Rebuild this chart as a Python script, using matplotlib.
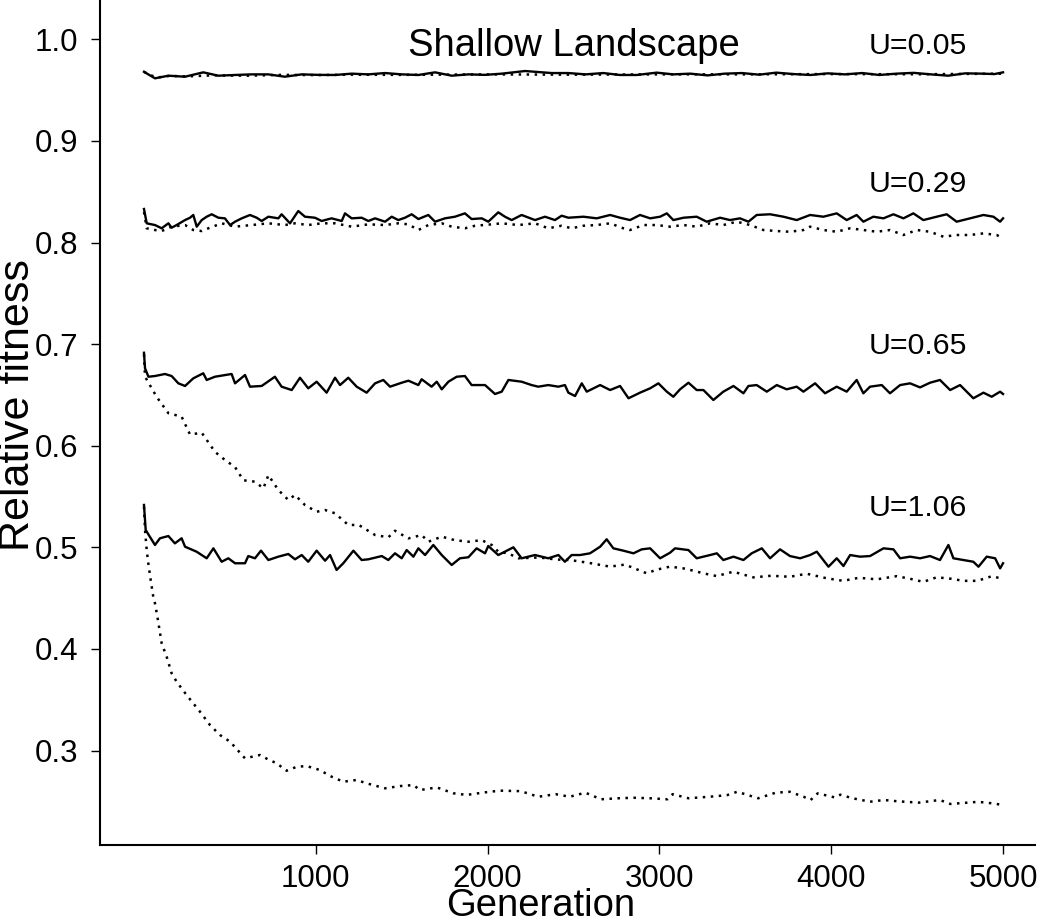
import matplotlib
matplotlib.use('Agg')
import matplotlib.pyplot as plt

plt.rcParams['font.family'] = ['Liberation Sans', 'DejaVu Sans']

# ---- data (generation, relative fitness) ----
gen_u005 = [0, 25, 64, 142, 239, 345, 433, 530, 627, 724, 820, 918, 1015, 1112, 1209,
            1306, 1403, 1500, 1597, 1694, 1791, 1888, 1985, 2082, 2218, 2373, 2470, 2570,
            2674, 2770, 2868, 2984, 3080, 3180, 3280, 3380, 3480, 3580, 3680, 3780, 3880,
            3980, 4080, 4180, 4280, 4380, 4480, 4580, 4680, 4780, 4880, 4950, 5000]
fit_u005 = [0.9681, 0.9655, 0.9616, 0.9642, 0.9632, 0.9675, 0.9642, 0.9649, 0.9655, 0.9655,
            0.9632, 0.9655, 0.9650, 0.9649, 0.9662, 0.9655, 0.9668, 0.9655, 0.9649, 0.9675,
            0.9642, 0.9655, 0.9650, 0.9662, 0.9688, 0.9668, 0.9668, 0.9655, 0.9668, 0.9649,
            0.9649, 0.9672, 0.9655, 0.9662, 0.9645, 0.9662, 0.9668, 0.9652, 0.9672, 0.9658,
            0.9649, 0.9665, 0.9655, 0.9668, 0.9649, 0.9662, 0.9670, 0.9655, 0.9642, 0.9665,
            0.9662, 0.9658, 0.9675]
gen_u005_dot = [0, 30, 80, 150, 250, 400, 600, 800, 1000, 1200, 1500, 2000, 2500, 3000,
                3500, 4000, 4500, 5000]
fit_u005_dot = [0.9680, 0.9650, 0.9625, 0.9640, 0.9635, 0.9645, 0.9642, 0.9650, 0.9648,
                0.9652, 0.9650, 0.9655, 0.9652, 0.9655, 0.9655, 0.9658, 0.9656, 0.9662]

gen_u029 = [0, 16, 64, 103, 142, 161, 190, 239, 268, 287, 307, 336, 365, 394, 433, 471,
            501, 530, 569, 617, 656, 685, 724, 782, 801, 850, 898, 937, 995, 1034, 1092,
            1151, 1170, 1209, 1267, 1306, 1345, 1403, 1442, 1480, 1519, 1558, 1597, 1655,
            1694, 1752, 1810, 1868, 1907, 1966, 2004, 2062, 2101, 2140, 2198, 2276, 2334,
            2392, 2431, 2470, 2558, 2635, 2713, 2771, 2829, 2887, 2946, 3004, 3043, 3081,
            3140, 3217, 3275, 3353, 3411, 3469, 3518, 3566, 3644, 3722, 3799, 3877, 3954,
            4032, 4090, 4148, 4187, 4245, 4304, 4362, 4420, 4478, 4536, 4614, 4672, 4730,
            4808, 4886, 4944, 4983, 5000]
fit_u029 = [0.8330, 0.8189, 0.8172, 0.8140, 0.8189, 0.8146, 0.8172, 0.8221, 0.8244, 0.8271,
            0.8156, 0.8221, 0.8254, 0.8278, 0.8244, 0.8238, 0.8172, 0.8205, 0.8238, 0.8271,
            0.8244, 0.8212, 0.8254, 0.8238, 0.8278, 0.8189, 0.8310, 0.8254, 0.8244, 0.8212,
            0.8238, 0.8212, 0.8287, 0.8238, 0.8244, 0.8212, 0.8238, 0.8205, 0.8254, 0.8221,
            0.8244, 0.8278, 0.8231, 0.8271, 0.8205, 0.8238, 0.8254, 0.8287, 0.8231, 0.8238,
            0.8205, 0.8297, 0.8254, 0.8221, 0.8271, 0.8221, 0.8254, 0.8221, 0.8264, 0.8244,
            0.8254, 0.8238, 0.8271, 0.8244, 0.8221, 0.8271, 0.8238, 0.8254, 0.8287, 0.8221,
            0.8244, 0.8254, 0.8205, 0.8244, 0.8221, 0.8238, 0.8205, 0.8271, 0.8278, 0.8254,
            0.8221, 0.8271, 0.8254, 0.8287, 0.8221, 0.8271, 0.8205, 0.8254, 0.8238, 0.8278,
            0.8238, 0.8287, 0.8221, 0.8254, 0.8278, 0.8205, 0.8238, 0.8271, 0.8254, 0.8205,
            0.8238]
gen_u029_dot = [0, 16, 64, 103, 161, 239, 287, 336, 375, 452, 530, 627, 724, 820, 879, 956,
                1034, 1112, 1209, 1306, 1403, 1480, 1539, 1597, 1655, 1733, 1791, 1868, 1927,
                2024, 2082, 2179, 2276, 2353, 2431, 2489, 2558, 2635, 2713, 2790, 2829, 2907,
                2984, 3062, 3140, 3217, 3295, 3372, 3450, 3528, 3605, 3683, 3760, 3838, 3877,
                3954, 4032, 4110, 4187, 4265, 4342, 4420, 4498, 4575, 4653, 4730, 4808, 4886,
                4963, 5000]
fit_u029_dot = [0.8300, 0.8140, 0.8123, 0.8113, 0.8156, 0.8172, 0.8123, 0.8113, 0.8140, 0.8189,
                0.8156, 0.8172, 0.8189, 0.8172, 0.8189, 0.8172, 0.8189, 0.8189, 0.8156, 0.8179,
                0.8172, 0.8189, 0.8179, 0.8123, 0.8172, 0.8189, 0.8156, 0.8140, 0.8165, 0.8179,
                0.8189, 0.8172, 0.8189, 0.8140, 0.8165, 0.8140, 0.8165, 0.8172, 0.8189, 0.8140,
                0.8123, 0.8172, 0.8172, 0.8156, 0.8172, 0.8156, 0.8189, 0.8172, 0.8205, 0.8172,
                0.8123, 0.8113, 0.8106, 0.8123, 0.8156, 0.8123, 0.8106, 0.8140, 0.8123, 0.8106,
                0.8123, 0.8074, 0.8123, 0.8106, 0.8057, 0.8074, 0.8074, 0.8090, 0.8074, 0.8041]

gen_u065 = [0, 6, 26, 64, 122, 161, 200, 239, 287, 345, 365, 413, 510, 530, 588, 617, 685,
            762, 801, 860, 908, 956, 1005, 1063, 1112, 1141, 1189, 1238, 1296, 1345, 1393,
            1432, 1500, 1539, 1597, 1616, 1674, 1704, 1733, 1772, 1820, 1868, 1907, 1985,
            2043, 2082, 2121, 2198, 2256, 2295, 2353, 2412, 2450, 2470, 2509, 2548, 2577,
            2655, 2713, 2771, 2820, 2887, 2946, 2994, 3043, 3081, 3120, 3169, 3217, 3256,
            3314, 3372, 3431, 3489, 3518, 3566, 3625, 3683, 3741, 3799, 3838, 3906, 3964,
            4032, 4090, 4148, 4187, 4226, 4294, 4342, 4401, 4459, 4517, 4575, 4633, 4692,
            4750, 4827, 4886, 4934, 4983, 5000]
fit_u065 = [0.6915, 0.6762, 0.6679, 0.6686, 0.6706, 0.6686, 0.6614, 0.6588, 0.6663, 0.6713,
            0.6647, 0.6679, 0.6706, 0.6614, 0.6696, 0.6581, 0.6588, 0.6679, 0.6581, 0.6548,
            0.6669, 0.6565, 0.6630, 0.6522, 0.6669, 0.6597, 0.6669, 0.6581, 0.6522, 0.6614,
            0.6647, 0.6581, 0.6620, 0.6640, 0.6597, 0.6654, 0.6581, 0.6630, 0.6555, 0.6630,
            0.6679, 0.6686, 0.6597, 0.6597, 0.6509, 0.6532, 0.6647, 0.6630, 0.6597, 0.6581,
            0.6597, 0.6581, 0.6597, 0.6522, 0.6489, 0.6614, 0.6532, 0.6597, 0.6548, 0.6588,
            0.6467, 0.6522, 0.6565, 0.6614, 0.6532, 0.6482, 0.6555, 0.6620, 0.6548, 0.6548,
            0.6450, 0.6532, 0.6588, 0.6516, 0.6588, 0.6597, 0.6532, 0.6597, 0.6555, 0.6581,
            0.6532, 0.6614, 0.6516, 0.6581, 0.6532, 0.6647, 0.6516, 0.6581, 0.6597, 0.6516,
            0.6597, 0.6614, 0.6574, 0.6620, 0.6647, 0.6548, 0.6597, 0.6467, 0.6522, 0.6482,
            0.6532, 0.6509]
gen_u065_dot = [0, 6, 74, 142, 219, 268, 336, 413, 471, 530, 578, 646, 695, 724, 782, 840,
                879, 937, 1005, 1054, 1112, 1189, 1250, 1345, 1422, 1461, 1539, 1616, 1655,
                1733, 1810, 1888, 1966, 2024, 2062, 2121, 2179, 2300, 2400, 2480, 2596, 2712,
                2800, 2926, 2984, 3062, 3150, 3256, 3333, 3430, 3547, 3650, 3760, 3857, 3974,
                4070, 4160, 4265, 4381, 4460, 4536, 4614, 4700, 4769, 4850, 4934, 5000]
fit_u065_dot = [0.6900, 0.6680, 0.6480, 0.6320, 0.6286, 0.6110, 0.6128, 0.5940, 0.5860,
                0.5790, 0.5660, 0.5646, 0.5580, 0.5710, 0.5564, 0.5466, 0.5515, 0.5416,
                0.5350, 0.5367, 0.5335, 0.5220, 0.5220, 0.5121, 0.5098, 0.5163, 0.5088,
                0.5121, 0.5055, 0.5105, 0.5070, 0.5055, 0.5070, 0.5023, 0.4957, 0.4940,
                0.4892, 0.4900, 0.4880, 0.4875, 0.4845, 0.4810, 0.4830, 0.4744, 0.4780,
                0.4810, 0.4790, 0.4744, 0.4717, 0.4760, 0.4704, 0.4720, 0.4710, 0.4740,
                0.4695, 0.4670, 0.4700, 0.4685, 0.4716, 0.4690, 0.4660, 0.4705, 0.4690,
                0.4670, 0.4670, 0.4715, 0.4690]

gen_u106 = [0, 10, 64, 93, 142, 180, 219, 239, 306, 365, 404, 452, 491, 530, 588, 607, 646,
            681, 724, 782, 840, 879, 918, 956, 1005, 1054, 1083, 1121, 1160, 1219, 1267,
            1306, 1384, 1422, 1461, 1500, 1529, 1568, 1597, 1636, 1684, 1733, 1791, 1839,
            1888, 1936, 1985, 2004, 2062, 2082, 2150, 2198, 2276, 2353, 2412, 2450, 2489,
            2538, 2596, 2655, 2693, 2732, 2790, 2849, 2897, 2946, 3004, 3062, 3091, 3169,
            3217, 3295, 3334, 3372, 3431, 3489, 3537, 3596, 3644, 3702, 3760, 3819, 3877,
            3916, 3984, 4032, 4071, 4110, 4168, 4226, 4304, 4362, 4401, 4459, 4517, 4575,
            4633, 4682, 4711, 4769, 4827, 4857, 4905, 4954, 4983, 5000]
fit_u106 = [0.5417, 0.5170, 0.5023, 0.5089, 0.5111, 0.5039, 0.5089, 0.5006, 0.4957, 0.4892,
            0.4990, 0.4858, 0.4892, 0.4843, 0.4843, 0.4914, 0.4892, 0.4967, 0.4875, 0.4908,
            0.4934, 0.4882, 0.4924, 0.4858, 0.4967, 0.4868, 0.4924, 0.4777, 0.4843, 0.4967,
            0.4875, 0.4882, 0.4914, 0.4875, 0.4941, 0.4892, 0.4973, 0.4908, 0.4990, 0.4924,
            0.5023, 0.4924, 0.4826, 0.4892, 0.4902, 0.4990, 0.4941, 0.5013, 0.4924, 0.4941,
            0.5000, 0.4892, 0.4924, 0.4892, 0.4924, 0.4858, 0.4924, 0.4924, 0.4941, 0.5006,
            0.5079, 0.4990, 0.4967, 0.4941, 0.4980, 0.4990, 0.4892, 0.4947, 0.4990, 0.4973,
            0.4892, 0.4924, 0.4941, 0.4875, 0.4908, 0.4875, 0.4941, 0.4990, 0.4892, 0.4980,
            0.4914, 0.4892, 0.4924, 0.4957, 0.4809, 0.4892, 0.4816, 0.4924, 0.4908, 0.4914,
            0.4990, 0.4980, 0.4892, 0.4908, 0.4892, 0.4914, 0.4875, 0.5023, 0.4892, 0.4875,
            0.4858, 0.4809, 0.4908, 0.4892, 0.4793, 0.4843]
gen_u106_dot = [0, 6, 16, 25, 39, 54, 64, 78, 103, 132, 161, 190, 248, 326, 384, 442, 501,
                588, 675, 714, 772, 830, 889, 947, 1024, 1083, 1160, 1238, 1296, 1403, 1490,
                1568, 1607, 1704, 1801, 1878, 1975, 2071, 2193, 2295, 2396, 2478, 2569, 2660,
                2762, 2850, 2945, 3047, 3077, 3169, 3291, 3392, 3453, 3575, 3677, 3758, 3839,
                3880, 3921, 4022, 4053, 4124, 4226, 4307, 4388, 4510, 4632, 4693, 4795, 4856,
                4937, 5000]
fit_u106_dot = [0.5400, 0.5170, 0.4973, 0.4845, 0.4678, 0.4514, 0.4449, 0.4317, 0.4055,
                0.3923, 0.3760, 0.3677, 0.3546, 0.3382, 0.3251, 0.3153, 0.3087, 0.2923,
                0.2956, 0.2920, 0.2874, 0.2801, 0.2840, 0.2847, 0.2808, 0.2749, 0.2693,
                0.2710, 0.2677, 0.2628, 0.2650, 0.2660, 0.2611, 0.2637, 0.2579, 0.2563,
                0.2586, 0.2605, 0.2600, 0.2545, 0.2570, 0.2545, 0.2585, 0.2520, 0.2530,
                0.2535, 0.2530, 0.2520, 0.2570, 0.2530, 0.2545, 0.2560, 0.2594, 0.2530,
                0.2585, 0.2594, 0.2545, 0.2513, 0.2578, 0.2538, 0.2565, 0.2530, 0.2496,
                0.2513, 0.2500, 0.2487, 0.2513, 0.2474, 0.2487, 0.2495, 0.2480, 0.2464]

u_labels = ['U=0.05', 'U=0.29', 'U=0.65', 'U=1.06']
u_label_y = [0.9859, 0.8493, 0.6903, 0.5309]

solid = [(gen_u005, fit_u005), (gen_u029, fit_u029), (gen_u065, fit_u065), (gen_u106, fit_u106)]
dotted = [(gen_u005_dot, fit_u005_dot), (gen_u029_dot, fit_u029_dot),
          (gen_u065_dot, fit_u065_dot), (gen_u106_dot, fit_u106_dot)]

fig = plt.figure(figsize=(10.5, 9.18), dpi=100)
ax = fig.add_axes([100 / 1050, 73 / 918, 935 / 1050, 845 / 918])

dot_style = (0, (1, 2.2))
for g, f in dotted:
    ax.plot(g, f, color='black', lw=1.8, linestyle=dot_style)
for g, f in solid:
    ax.plot(g, f, color='black', lw=1.7)

for lab, yy in zip(u_labels, u_label_y):
    ax.text(4505, yy, lab, ha='center', va='baseline', fontsize=21.8)
ax.text(2500, 0.9836, 'Shallow Landscape', ha='center', va='baseline', fontsize=27.5)

ax.set_xlim(-256, 5186)
ax.set_ylim(0.207, 1.0387)
ax.set_xticks([1000, 2000, 3000, 4000, 5000])
ax.set_yticks([0.3, 0.4, 0.5, 0.6, 0.7, 0.8, 0.9, 1.0])
ax.set_yticklabels(['0.3', '0.4', '0.5', '0.6', '0.7', '0.8', '0.9', '1.0'])
ax.tick_params(axis='both', direction='out', length=6.5, width=1.0, labelsize=22.5)
ax.tick_params(axis='y', pad=9)
ax.tick_params(axis='x', pad=7.5)

for s in ['top', 'right']:
    ax.spines[s].set_visible(False)
for s in ['left', 'bottom']:
    ax.spines[s].set_linewidth(1.5)

ax.set_xlabel('Generation', fontsize=27.5, va='baseline')
ax.xaxis.set_label_coords(0.4717, -0.0840)
ax.set_ylabel('Relative fitness', fontsize=31, va='center')
ax.yaxis.set_label_coords(-0.0872, 0.5207)

fig.savefig('out.png', dpi=100)
